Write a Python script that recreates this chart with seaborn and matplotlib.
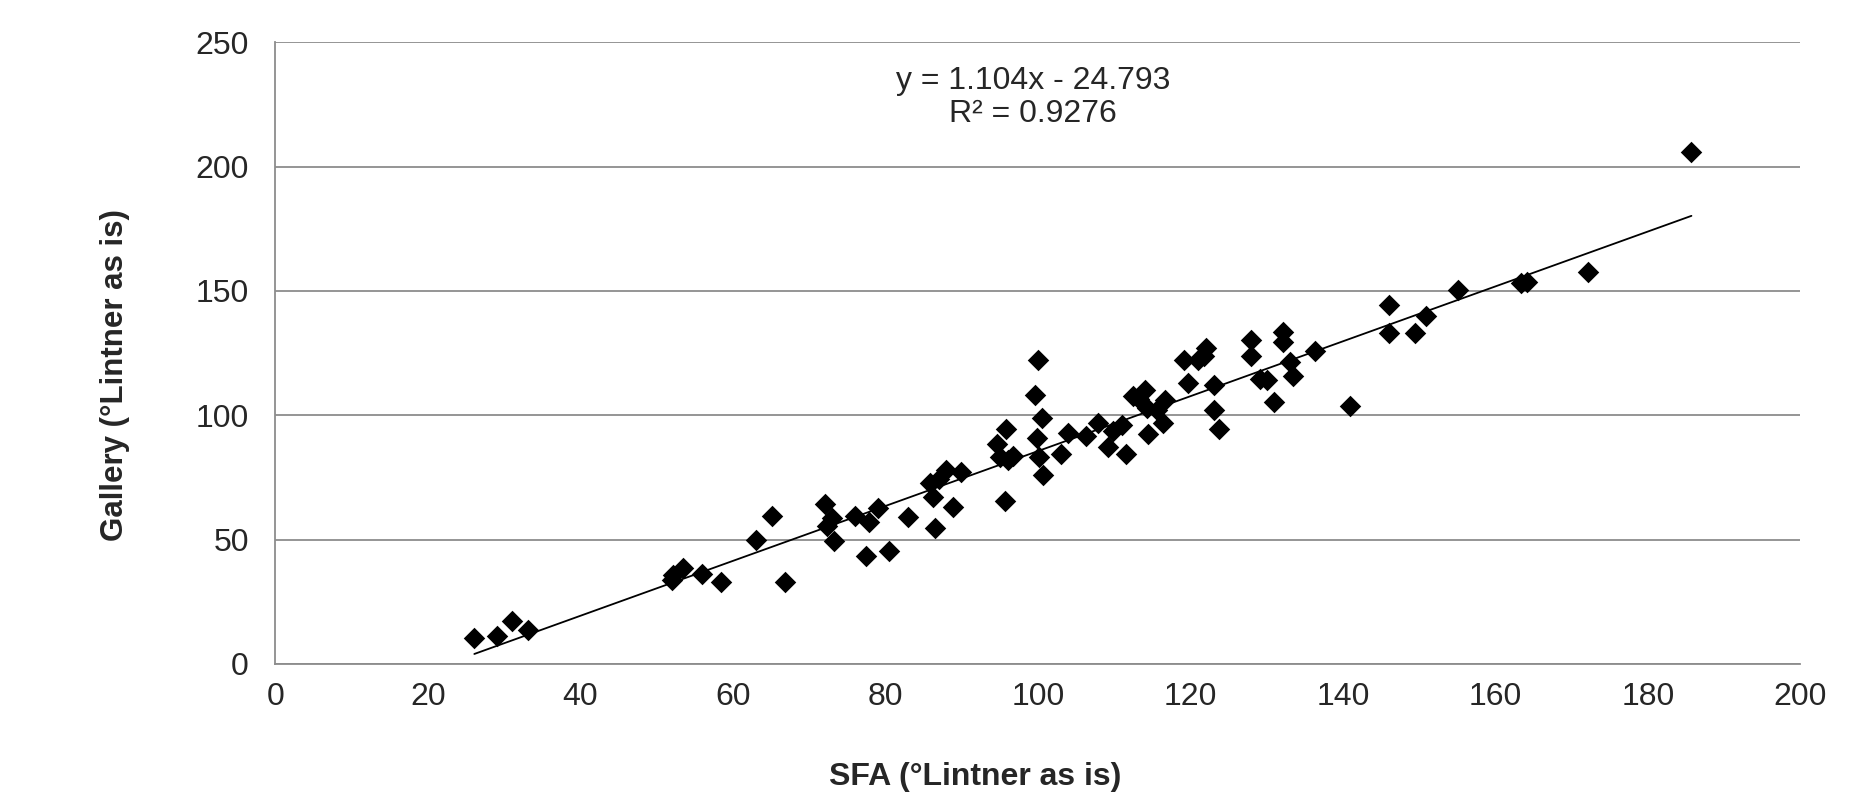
import pandas as pd
import seaborn as sns
import matplotlib.pyplot as plt

# Data
sfa = [26.1, 29.1, 31.1, 33.1, 52.0, 52.2, 53.5, 56.0, 58.4, 63.1,
       65.1, 66.9, 72.1, 72.3, 73.0, 73.2, 76.0, 77.4, 77.9, 79.1,
       80.5, 83.0, 85.8, 86.3, 86.5, 87.0, 87.9, 88.9, 89.9, 94.6,
       95.0, 95.7, 95.8, 96.1, 96.8, 99.6, 100.0, 99.9, 100.2, 100.5,
       100.7, 103.0, 104.0, 106.3, 107.9, 109.2, 109.9, 111.0, 111.5, 112.5,
       113.2, 114.0, 114.3, 114.4, 115.6, 116.4, 116.7, 119.1, 119.7, 121.0,
       121.8, 122.1, 123.1, 123.1, 123.8, 128.0, 128.0, 129.1, 130.0, 130.9,
       132.2, 132.2, 133.0, 133.4, 136.3, 140.9, 146.1, 146.1, 149.4, 150.9,
       155.1, 163.4, 164.1, 172.1, 185.7]
gallery = [10.3, 11.4, 17.3, 13.7, 33.8, 35.6, 38.6, 36.3, 32.8, 49.9,
           59.6, 32.9, 64.4, 55.3, 58.6, 49.6, 59.6, 43.5, 56.9, 62.9,
           45.6, 59.3, 72.7, 67.1, 54.6, 74.5, 78.1, 63.1, 77.4, 88.5,
           83.4, 65.7, 94.4, 82.1, 83.7, 108.2, 122.1, 90.8, 83.4, 98.9,
           76.1, 84.5, 93.0, 91.8, 96.9, 87.4, 93.5, 96.2, 84.5, 107.6,
           106.5, 110.3, 102.9, 92.6, 102.2, 96.9, 106.2, 122.3, 113.0, 122.3,
           124.0, 127.0, 112.3, 102.2, 94.4, 130.4, 123.9, 114.6, 114.3, 105.2,
           133.7, 129.3, 121.6, 115.9, 125.7, 103.8, 144.5, 133.3, 133.1, 139.8,
           150.5, 153.2, 153.8, 157.5, 205.9]

# Trendline as printed on the chart
slope = 1.104
intercept = -24.793
r2 = 0.9276

df = pd.DataFrame({'SFA': sfa, 'Gallery': gallery})
trend = pd.DataFrame({'SFA': [min(sfa), max(sfa)]})
trend['Gallery'] = slope * trend['SFA'] + intercept

sns.set_style('white')
plt.rcParams['font.family'] = ['Liberation Sans', 'DejaVu Sans']

fig = plt.figure(figsize=(18.6, 7.99), dpi=100)
ax = fig.add_axes([0.148, 0.169, 0.820, 0.778])

sns.lineplot(data=trend, x='SFA', y='Gallery', color='black', linewidth=1.3, ax=ax)
sns.scatterplot(data=df, x='SFA', y='Gallery', marker='D', s=120, color='black',
                linewidth=0, ax=ax, zorder=3)

ax.set_xlim(0, 200)
ax.set_ylim(0, 250)
ax.set_xticks(range(0, 201, 20))
ax.set_yticks(range(0, 251, 50))
ax.tick_params(length=0, labelsize=23)
ax.tick_params(axis='x', pad=13)
ax.tick_params(axis='y', pad=19)

ax.yaxis.grid(True, color='#8c8c8c', linewidth=1.3)
ax.xaxis.grid(False)
ax.set_axisbelow(True)
for side in ['top', 'right']:
    ax.spines[side].set_visible(False)
for side in ['left', 'bottom']:
    ax.spines[side].set_color('#8c8c8c')
    ax.spines[side].set_linewidth(1.3)

ax.set_xlabel('SFA (°Lintner as is)', fontsize=23, fontweight='bold', va='center')
ax.set_ylabel('Gallery (°Lintner as is)', fontsize=22.5, fontweight='bold', va='center')
ax.xaxis.set_label_coords(0.459, -0.182)
ax.yaxis.set_label_coords(-0.105, 0.465)

ax.text(99.4, 227.8, f'y = {slope}x - {abs(intercept)}\nR² = {r2}', fontsize=23,
        ha='center', va='center', linespacing=1.15)

fig.savefig('out.png', dpi=100)
